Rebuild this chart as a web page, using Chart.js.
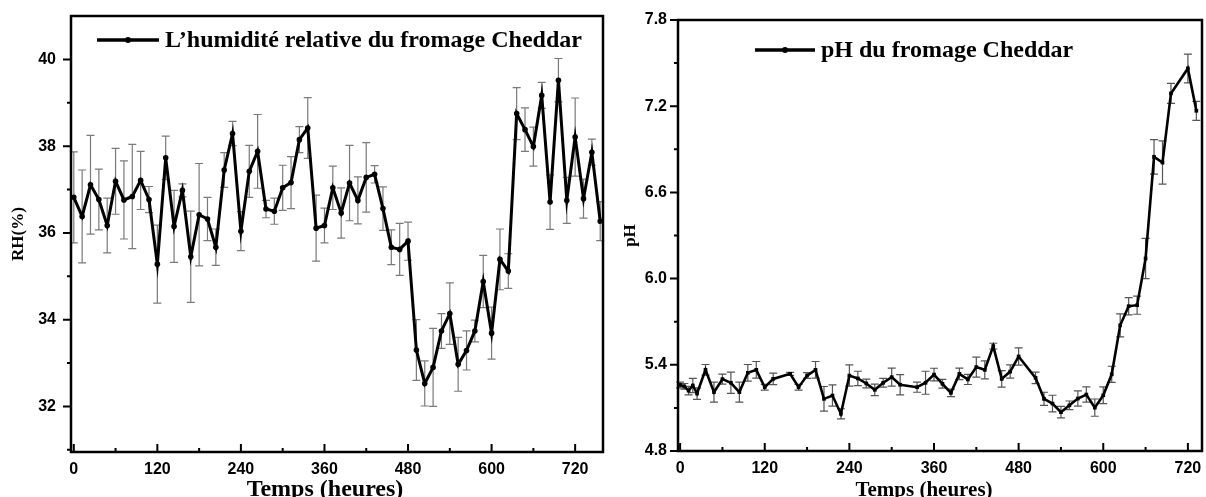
<!DOCTYPE html>
<html>
<head>
<meta charset="utf-8">
<script src="https://cdn.jsdelivr.net/npm/chart.js@4"></script>
<style>
  body { margin: 0; background: #fff; width: 1206px; height: 497px; position: relative; overflow: hidden; }
  .box { position: absolute; top: 0; height: 497px; }
  #left { left: 0; width: 612px; }
  #right { left: 612px; width: 594px; }
</style>
</head>
<body>
<div class="box" id="left"><canvas id="rh"></canvas></div>
<div class="box" id="right"><canvas id="ph"></canvas></div>
<script>
// humidité relative (RH %), mesures toutes les 12 h
const rhHours = [0, 12, 24, 36, 48, 60, 72, 84, 96, 108, 120, 132, 144, 156, 168, 180, 192, 204, 216, 228,
  240, 252, 264, 276, 288, 300, 312, 324, 336, 348, 360, 372, 384, 396, 408, 420, 432, 444, 456, 468,
  480, 492, 504, 516, 528, 540, 552, 564, 576, 588, 600, 612, 624, 636, 648, 660, 672, 684, 696, 708,
  720, 732, 744, 756];
const rhValues = [36.82, 36.38, 37.11, 36.77, 36.17, 37.19, 36.76, 36.84, 37.21, 36.77, 35.28, 37.73, 36.15, 36.98, 35.45, 36.42, 36.32, 35.67, 37.45, 38.29,
  36.04, 37.42, 37.88, 36.55, 36.50, 37.04, 37.16, 38.15, 38.42, 36.11, 36.17, 37.04, 36.46, 37.15, 36.75, 37.28, 37.35, 36.56, 35.67, 35.62,
  35.81, 33.30, 32.53, 32.90, 33.74, 34.14, 32.97, 33.29, 33.74, 34.88, 33.69, 35.39, 35.12, 38.75, 38.38, 37.99, 39.17, 36.71, 39.52, 36.75,
  38.21, 36.79, 37.86, 36.27];
const rhErrors = [1.05, 1.07, 1.14, 0.7, 0.63, 0.76, 0.9, 1.2, 0.67, 0.3, 0.9, 0.5, 0.83, 0.15, 1.05, 1.18, 0.5, 0.42, 0.4, 0.28,
  0.45, 0.6, 0.85, 0.2, 0.3, 0.52, 0.6, 0.3, 0.7, 0.76, 0.4, 0.5, 0.58, 0.87, 0.54, 0.8, 0.2, 0.5, 0.4, 0.6,
  0.44, 0.7, 0.52, 0.9, 0.4, 0.71, 0.62, 0.45, 0.25, 0.6, 0.6, 0.7, 0.4, 0.6, 0.5, 0.45, 0.3, 0.63, 0.5, 0.53,
  0.9, 0.45, 0.3, 0.45];

// pH
const phHours = [0, 6, 12, 18, 24, 36, 48, 60, 72, 84, 96, 108, 120, 132, 156, 168, 180, 192, 204, 216,
  228, 240, 252, 264, 276, 288, 300, 312, 336, 348, 360, 372, 384, 396, 408, 420, 432, 444, 456, 468,
  480, 504, 516, 528, 540, 552, 564, 576, 588, 600, 612, 624, 636, 648, 660, 672, 684, 696, 720, 732];
const phValues = [5.26, 5.25, 5.22, 5.256, 5.20, 5.365, 5.21, 5.30, 5.275, 5.21, 5.344, 5.365, 5.244, 5.302, 5.337, 5.244, 5.325, 5.365, 5.163, 5.186,
  5.059, 5.325, 5.305, 5.27, 5.226, 5.275, 5.314, 5.261, 5.244, 5.275, 5.332, 5.268, 5.205, 5.337, 5.298, 5.384, 5.365, 5.53, 5.302, 5.353,
  5.458, 5.309, 5.163, 5.13, 5.07, 5.118, 5.165, 5.193, 5.102, 5.188, 5.334, 5.675, 5.808, 5.815, 6.14, 6.847, 6.808, 7.289, 7.463, 7.168];
const phErrors = [0.02, 0.02, 0.03, 0.05, 0.04, 0.037, 0.07, 0.035, 0.074, 0.07, 0.058, 0.058, 0.02, 0.04, 0.01, 0.02, 0.02, 0.058, 0.086, 0.074,
  0.035, 0.074, 0.05, 0.03, 0.04, 0.03, 0.063, 0.07, 0.035, 0.08, 0.044, 0.03, 0.026, 0.04, 0.035, 0.07, 0.063, 0.02, 0.058, 0.046,
  0.06, 0.04, 0.046, 0.058, 0.04, 0.03, 0.053, 0.053, 0.06, 0.058, 0.056, 0.08, 0.06, 0.063, 0.14, 0.12, 0.15, 0.07, 0.1, 0.066];

// graduations
const xTicks = [0, 120, 240, 360, 480, 600, 720];
const xMinorTicks = [60, 180, 300, 420, 540, 660];
const rhTicks = [32, 34, 36, 38, 40];
const rhMinorTicks = [31, 33, 35, 37, 39];
const phTicks = [4.8, 5.4, 6.0, 6.6, 7.2, 7.8];
const phMinorTicks = [5.1, 5.7, 6.3, 6.9, 7.5];

const SERIF = "'Liberation Serif', 'Times New Roman', serif";
const SANS = "'Liberation Sans', Arial, sans-serif";

// barres d'erreur
const errorBars = {
  id: 'errorBars',
  beforeDatasetsDraw(chart, args, opts) {
    const { ctx, scales: { x, y } } = chart;
    const pts = chart.data.datasets[0].data;
    ctx.save();
    ctx.strokeStyle = opts.color;
    ctx.lineWidth = 1.2;
    pts.forEach((p, i) => {
      const e = opts.errors[i];
      const px = x.getPixelForValue(p.x);
      const top = y.getPixelForValue(p.y + e);
      const bot = y.getPixelForValue(p.y - e);
      ctx.beginPath();
      ctx.moveTo(px, top); ctx.lineTo(px, bot);
      ctx.moveTo(px - opts.cap, top); ctx.lineTo(px + opts.cap, top);
      ctx.moveTo(px - opts.cap, bot); ctx.lineTo(px + opts.cap, bot);
      ctx.stroke();
    });
    ctx.restore();
  }
};

// cadre + graduations (x vers l'intérieur, y vers l'extérieur) + légende + titre x
const frame = {
  id: 'frame',
  afterDraw(chart, args, o) {
    const { ctx, chartArea: a, scales: { x, y } } = chart;
    ctx.save();
    ctx.strokeStyle = '#000';
    ctx.lineWidth = 2.5;
    ctx.strokeRect(a.left, a.top, a.right - a.left, a.bottom - a.top);

    ctx.lineWidth = 2;
    ctx.beginPath();
    o.xMajor.forEach(v => { const px = x.getPixelForValue(v); ctx.moveTo(px, a.bottom); ctx.lineTo(px, a.bottom - 8); });
    o.xMinor.forEach(v => { const px = x.getPixelForValue(v); ctx.moveTo(px, a.bottom); ctx.lineTo(px, a.bottom - 4); });
    o.yMajor.forEach(v => { const py = y.getPixelForValue(v); ctx.moveTo(a.left, py); ctx.lineTo(a.left - 8, py); });
    o.yMinor.forEach(v => { const py = y.getPixelForValue(v); ctx.moveTo(a.left, py); ctx.lineTo(a.left - 4, py); });
    ctx.stroke();

    // légende
    const L = o.legend;
    ctx.lineWidth = 3.5;
    ctx.beginPath();
    ctx.moveTo(L.x, L.y); ctx.lineTo(L.x + L.len, L.y);
    ctx.stroke();
    ctx.fillStyle = '#000';
    ctx.beginPath();
    ctx.arc(L.x + L.len / 2, L.y, 3, 0, Math.PI * 2);
    ctx.fill();
    ctx.font = 'bold ' + L.size + 'px ' + SERIF;
    ctx.textBaseline = 'middle';
    ctx.textAlign = 'left';
    ctx.fillText(L.text, L.x + L.len + 6, L.y + 1);

    // titre de l'axe x
    const T = o.xTitle;
    ctx.font = 'bold ' + T.size + 'px ' + SERIF;
    ctx.textAlign = 'center';
    ctx.textBaseline = 'alphabetic';
    ctx.fillText(T.text, T.x, T.y);
    ctx.restore();
  }
};

function makeChart(id, hours, values, errors, cfg) {
  return new Chart(document.getElementById(id), {
    type: 'line',
    data: {
      datasets: [{
        data: hours.map((h, i) => ({ x: h, y: values[i] })),
        borderColor: '#000',
        backgroundColor: '#000',
        borderWidth: cfg.lineWidth,
        pointStyle: cfg.pointStyle,
        pointRadius: cfg.pointRadius,
        pointBorderWidth: 0,
        tension: 0,
        fill: false
      }]
    },
    options: {
      responsive: true,
      maintainAspectRatio: false,
      animation: false,
      layout: { padding: cfg.padding },
      plugins: {
        legend: { display: false },
        tooltip: { enabled: false },
        errorBars: { errors: errors, color: cfg.errColor, cap: 4 },
        frame: { xMajor: xTicks, xMinor: xMinorTicks, yMajor: cfg.yTicks, yMinor: cfg.yMinor, legend: cfg.legend, xTitle: cfg.xTitle }
      },
      scales: {
        x: {
          type: 'linear',
          min: cfg.xMin, max: cfg.xMax,
          afterBuildTicks: s => { s.ticks = xTicks.map(v => ({ value: v })); },
          afterFit: s => { s.height = cfg.xHeight; s.paddingLeft = 0; s.paddingRight = 0; },
          grid: { display: false, drawTicks: false },
          border: { display: false },
          ticks: { color: '#000', padding: 8, font: { family: SANS, size: 16, weight: 'bold' }, maxRotation: 0 }
        },
        y: {
          min: cfg.yMin, max: cfg.yMax,
          afterBuildTicks: s => { s.ticks = cfg.yTicks.map(v => ({ value: v })); },
          afterFit: s => { s.width = cfg.yWidth; s.paddingTop = 0; s.paddingBottom = 0; },
          grid: { display: false, drawTicks: false },
          border: { display: false },
          ticks: { color: '#000', padding: cfg.yPad, font: { family: SANS, size: 16, weight: 'bold' }, callback: cfg.tickFmt },
          title: { display: true, text: cfg.yTitle, color: '#000', padding: { top: 0, bottom: 0 }, font: { family: SERIF, size: 17, weight: 'bold' } }
        }
      }
    },
    plugins: [errorBars, frame]
  });
}

makeChart('rh', rhHours, rhValues, rhErrors, {
  xMin: -4, xMax: 760, yMin: 30.95, yMax: 41,
  yTicks: rhTicks, yMinor: rhMinorTicks,
  yTitle: 'RH(%)', tickFmt: v => String(v), yPad: 15,
  yWidth: 63, xHeight: 45,
  padding: { top: 16, right: 9, left: 8, bottom: 0 },
  lineWidth: 3, pointStyle: 'circle', pointRadius: 2.8, errColor: '#7a7a7a',
  legend: { x: 97, y: 40, len: 62, size: 24, text: 'L’humidité relative du fromage Cheddar' },
  xTitle: { text: 'Temps (heures)', x: 325, y: 496, size: 24 }
});

makeChart('ph', phHours, phValues, phErrors, {
  xMin: -3, xMax: 740, yMin: 4.8, yMax: 7.8,
  yTicks: phTicks, yMinor: phMinorTicks,
  yTitle: 'pH', tickFmt: v => v.toFixed(1), yPad: 11,
  yWidth: 58, xHeight: 46,
  padding: { top: 20, right: 3, left: 8, bottom: 0 },
  lineWidth: 2.6, pointStyle: 'rect', pointRadius: 2.6, errColor: '#555',
  legend: { x: 143, y: 50, len: 60, size: 24, text: 'pH du fromage Cheddar' },
  xTitle: { text: 'Temps (heures)', x: 312, y: 496, size: 21 }
});
</script>
</body>
</html>
